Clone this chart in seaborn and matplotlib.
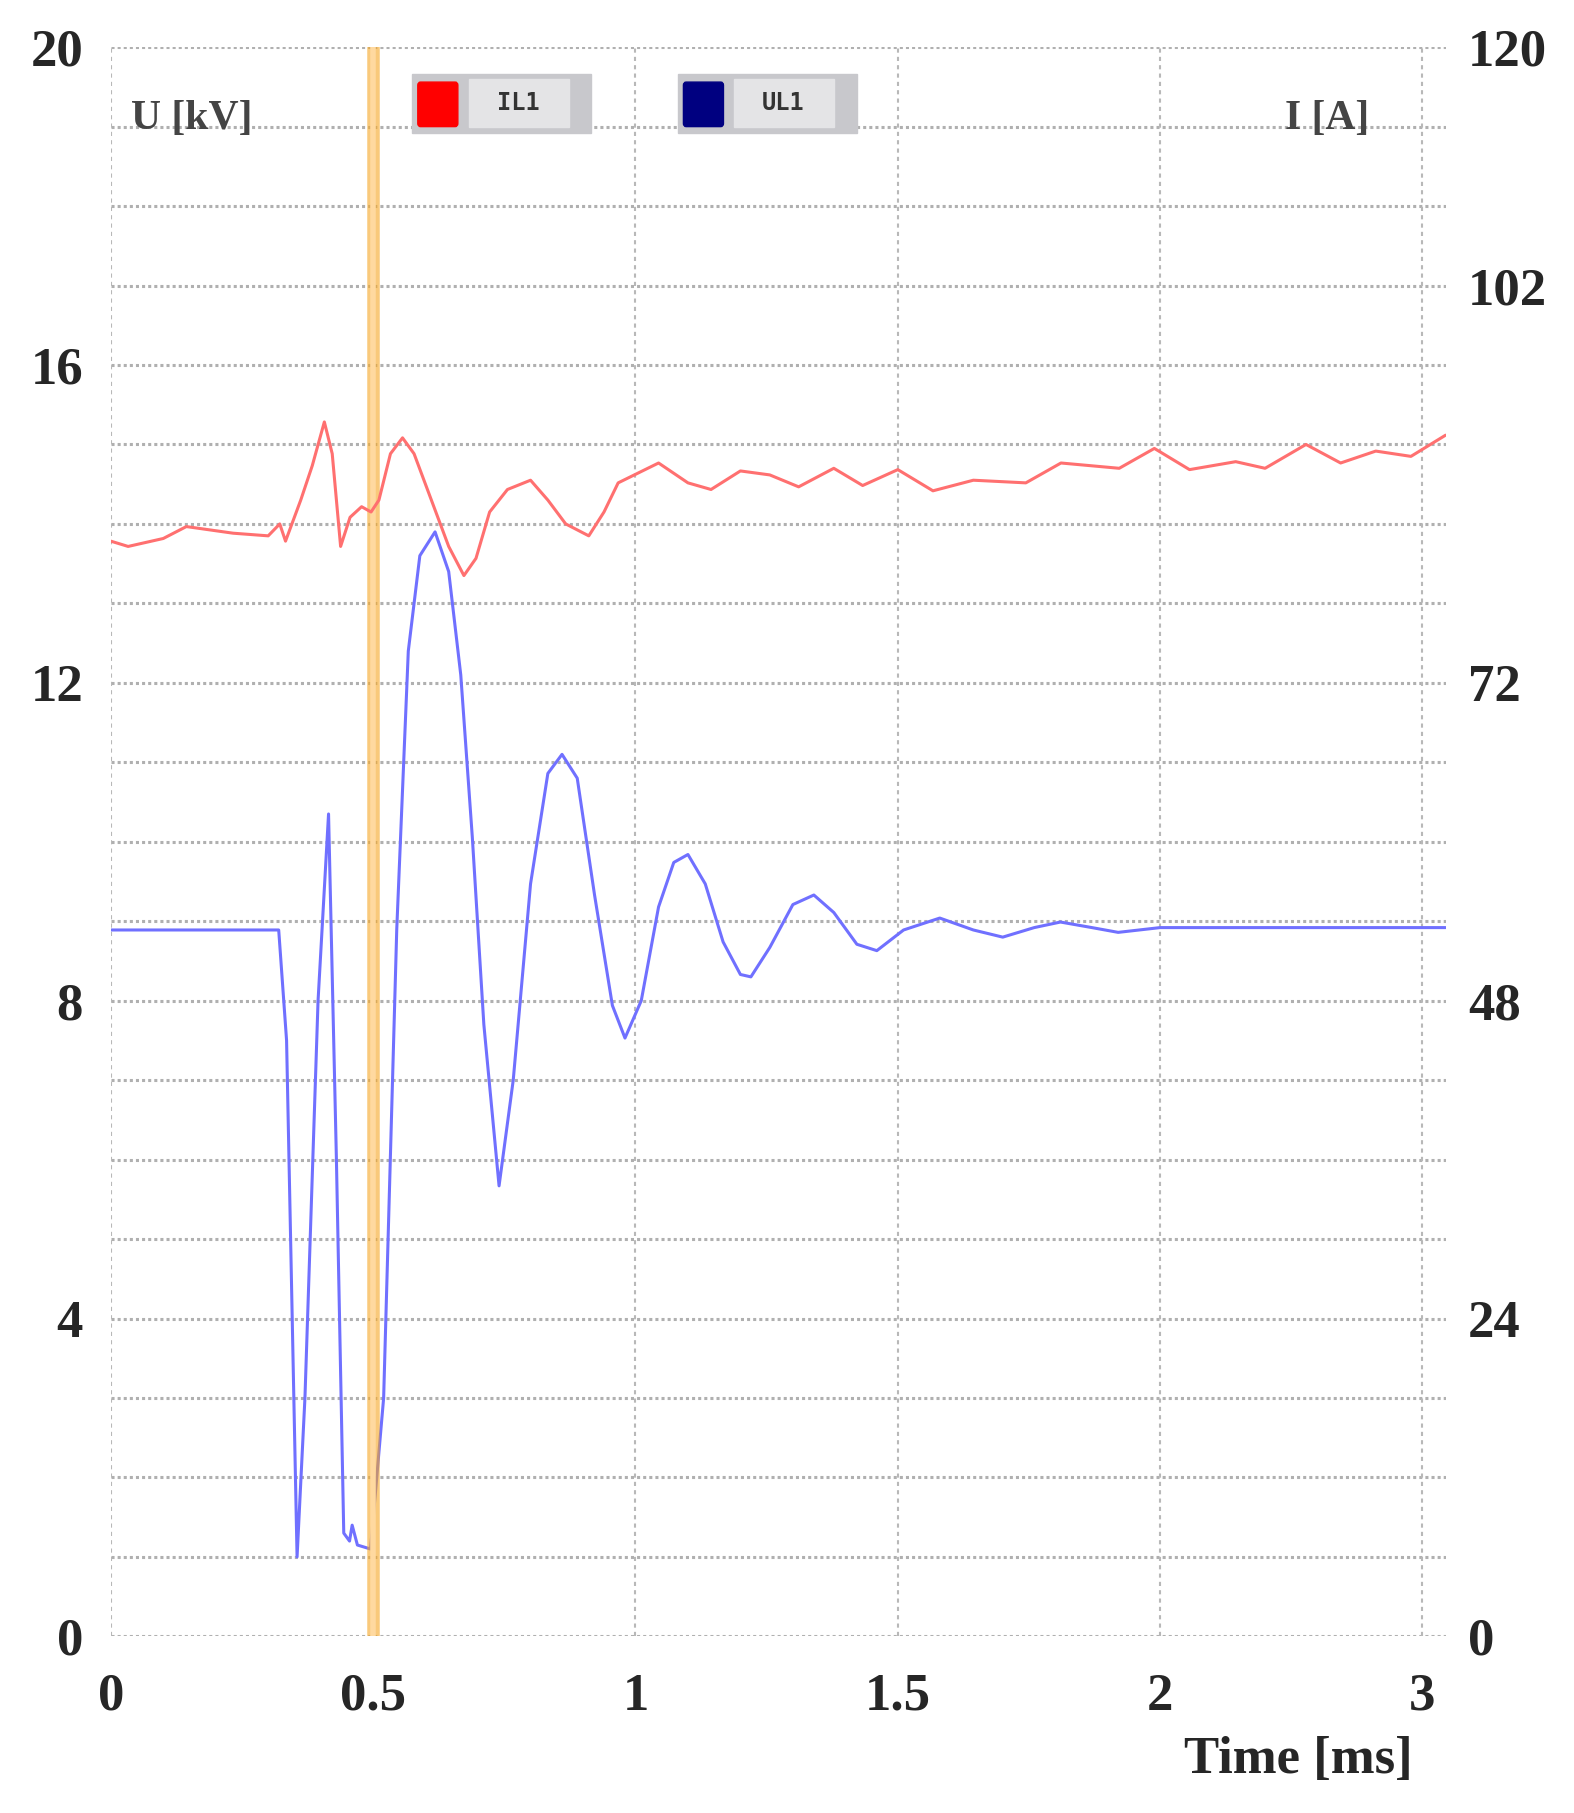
import matplotlib
matplotlib.use("Agg")
import matplotlib.pyplot as plt
import seaborn as sns
from matplotlib.patches import FancyBboxPatch

t_u = [0, 0.32, 0.335, 0.355, 0.37, 0.395, 0.415, 0.43, 0.444, 0.455, 0.46, 0.47, 0.495,
       0.52, 0.545, 0.567, 0.589, 0.618, 0.644, 0.667, 0.689, 0.711, 0.74, 0.767, 0.80, 0.833,
       0.86, 0.889, 0.922, 0.956, 0.98, 1.011, 1.044, 1.073, 1.10, 1.133, 1.167, 1.20, 1.22,
       1.256, 1.30, 1.34, 1.378, 1.422, 1.46, 1.511, 1.58, 1.644, 1.70, 1.76, 1.81, 1.87,
       1.92, 2.0, 2.2, 2.544]
u_kv = [8.89, 8.89, 7.5, 1.0, 3.0, 8.0, 10.35, 6.0, 1.3, 1.2, 1.4, 1.15, 1.1,
        3.0, 8.9, 12.4, 13.6, 13.9, 13.4, 12.1, 10.06, 7.7, 5.67, 7.0, 9.47, 10.86,
        11.1, 10.8, 9.33, 7.94, 7.53, 8.0, 9.18, 9.74, 9.84, 9.47, 8.74, 8.33, 8.30,
        8.67, 9.21, 9.33, 9.11, 8.71, 8.63, 8.89, 9.04, 8.89, 8.80, 8.92, 8.99, 8.92,
        8.86, 8.92, 8.92, 8.92]
t_i = [0.0, 0.033, 0.10, 0.144, 0.233, 0.30, 0.322, 0.333, 0.362, 0.384, 0.407, 0.422, 0.438, 0.456,
       0.478, 0.496, 0.511, 0.533, 0.556, 0.578, 0.611, 0.644, 0.673, 0.696, 0.722, 0.756, 0.80, 0.833,
       0.867, 0.911, 0.94, 0.967, 1.044, 1.10, 1.144, 1.20, 1.256, 1.311, 1.378, 1.433, 1.50, 1.567,
       1.644, 1.744, 1.811, 1.922, 1.989, 2.056, 2.144, 2.20, 2.278, 2.344, 2.411, 2.478, 2.544]
i_a = [82.7, 82.3, 82.9, 83.8, 83.3, 83.1, 84.0, 82.7, 85.8, 88.4, 91.7, 89.3, 82.3, 84.5,
       85.3, 84.9, 85.8, 89.3, 90.5, 89.3, 85.8, 82.3, 80.1, 81.4, 84.9, 86.6, 87.3, 85.8,
       84.0, 83.1, 84.9, 87.1, 88.6, 87.1, 86.6, 88.0, 87.7, 86.8, 88.2, 86.9, 88.1, 86.5,
       87.3, 87.1, 88.6, 88.2, 89.7, 88.1, 88.7, 88.2, 90.0, 88.6, 89.5, 89.1, 90.7]
x_ticks = [0, 0.5, 1, 1.5, 2, 2.5]
x_labels = ["0", "0.5", "1", "1.5", "2", "3"]
u_ticks = [0, 4, 8, 12, 16, 20]
i_ticks = [0, 24, 48, 72, 102, 120]
cursor_t = 0.50

sns.set_theme(style="white")
plt.rcParams['font.family'] = ['Liberation Serif', 'DejaVu Serif']

fig = plt.figure(figsize=(15.74, 18.13), dpi=100)
ax = fig.add_axes([0.0704, 0.0974, 0.848, 0.8766])
ax2 = ax.twinx()

ax.set_xlim(0, 2.544)
ax.set_ylim(0, 20)
ax2.set_ylim(0, 120)

for yv in range(0, 21):
    ax.axhline(yv, color="#b0b0b0", lw=2.2, ls=(0, (1, 1)), zorder=0)
for xv in x_ticks:
    ax.axvline(xv, color="#b8b8b8", lw=1.5, ls=(0, (2, 2)), zorder=0)

sns.lineplot(x=t_u, y=u_kv, ax=ax, color="#7070ff", lw=2.2, sort=False)
sns.lineplot(x=t_i, y=i_a, ax=ax2, color="#ff7070", lw=2.2, sort=False)

ax.axvline(cursor_t, color="#f5a623", lw=9, alpha=0.6, zorder=5)
ax.axvline(cursor_t, color="#ffd9a0", lw=4, zorder=6)

ax.set_xticks(x_ticks)
ax.set_xticklabels(x_labels)
ax.set_yticks(u_ticks)
ax2.set_yticks(i_ticks)
for a in (ax, ax2):
    for s in a.spines.values():
        s.set_visible(False)
    a.tick_params(length=0, labelsize=38)
    for lab in a.get_xticklabels() + a.get_yticklabels():
        lab.set_fontweight("bold")
ax.tick_params(axis="x", pad=26)
ax.tick_params(axis="y", pad=20)
ax2.tick_params(axis="y", pad=16)

ax.text(0.015, 0.955, "U [kV]", transform=ax.transAxes, fontsize=30, fontweight="bold",
        color="#444444", va="center")
ax.text(0.88, 0.955, "I [A]", transform=ax.transAxes, fontsize=30, fontweight="bold",
        color="#444444", va="center")
ax.text(0.975, -0.078, "Time [ms]", transform=ax.transAxes, fontsize=38, fontweight="bold",
        ha="right", va="center")

for x0, col, lab in [(0.226, "#ff0000", "IL1"), (0.425, "#000080", "UL1")]:
    ax.add_patch(plt.Rectangle((x0, 0.946), 0.134, 0.037, transform=ax.transAxes,
                               color="#c8c8cc", zorder=7, clip_on=False))
    ax.add_patch(FancyBboxPatch((x0 + 0.006, 0.952), 0.026, 0.024, transform=ax.transAxes,
                                boxstyle="round,pad=0.002", color=col, zorder=8))
    ax.add_patch(plt.Rectangle((x0 + 0.042, 0.950), 0.075, 0.030, transform=ax.transAxes,
                               color="#e4e4e6", zorder=8))
    ax.text(x0 + 0.079, 0.965, lab, transform=ax.transAxes, fontsize=17, fontweight="bold",
            color="#333333", ha="center", va="center", zorder=9, family="DejaVu Sans Mono")

fig.savefig("out.png", dpi=100)
